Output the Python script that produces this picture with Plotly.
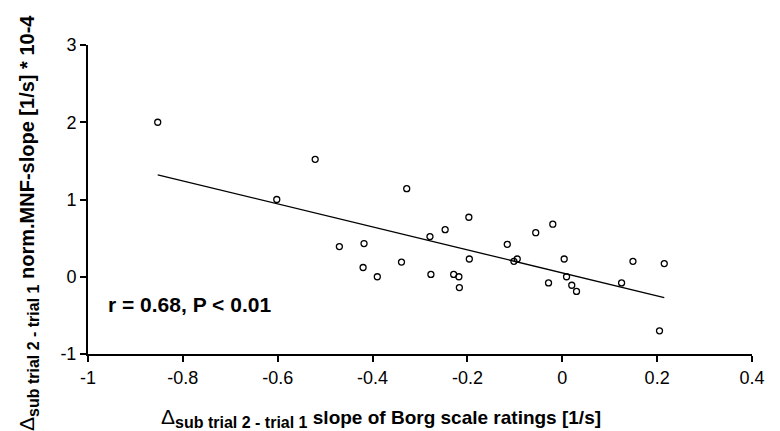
import plotly.graph_objects as go

# Scatter data: Δ slope of Borg scale ratings vs Δ norm. MNF-slope
borg_slope = [-0.853, -0.521, -0.602, -0.470, -0.328, -0.197, -0.247, -0.279,
              -0.056, -0.116, -0.418, -0.420, -0.390, -0.339, -0.277, -0.196,
              -0.229, -0.218, -0.217, -0.102, -0.095, -0.029, -0.020, 0.004,
              0.009, 0.020, 0.030, 0.125, 0.149, 0.215, 0.205]
mnf_slope = [2.00, 1.52, 1.00, 0.39, 1.14, 0.77, 0.61, 0.52,
             0.57, 0.42, 0.43, 0.12, 0.00, 0.19, 0.03, 0.23,
             0.03, 0.00, -0.14, 0.20, 0.23, -0.08, 0.68, 0.23,
             0.00, -0.11, -0.19, -0.08, 0.20, 0.17, -0.70]

# Regression line endpoints
fit_x = [-0.853, 0.215]
fit_y = [1.32, -0.27]

x_ticks = [-1, -0.8, -0.6, -0.4, -0.2, 0, 0.2, 0.4]
x_tick_labels = ["-1", "-0.8", "-0.6", "-0.4", "-0.2", "0", "0.2", "0.4"]
y_ticks = [-1, 0, 1, 2, 3]
y_tick_labels = ["-1", "0", "1", "2", "3"]

FONT = "Liberation Sans, Arial, sans-serif"
DELTA = "<span style='font-size:21px'>Δ</span>"
SUB = "<sub><span style='font-size:16px'><b>sub trial 2 - trial 1</b></span></sub>"

fig = go.Figure()
fig.add_trace(go.Scatter(
    x=fit_x, y=fit_y, mode="lines",
    line=dict(color="black", width=1.3), showlegend=False, hoverinfo="skip"))
fig.add_trace(go.Scatter(
    x=borg_slope, y=mnf_slope, mode="markers",
    marker=dict(symbol="circle-open", size=6, color="black", line=dict(width=1.3)),
    showlegend=False))

# correlation text
fig.add_annotation(
    x=-0.962, y=-0.36, xref="x", yref="y", xanchor="left", yanchor="middle",
    text="<b>r = 0.68, P &lt; 0.01</b>", showarrow=False,
    font=dict(family=FONT, size=21, color="black"))

# x axis title
fig.add_annotation(
    x=0.107, y=-0.207, xref="paper", yref="paper", xanchor="left", yanchor="middle",
    text=DELTA + SUB + " <b>slope of Borg scale ratings [1/s]</b>", showarrow=False,
    font=dict(family=FONT, size=19, color="black"))

# y axis title
fig.add_annotation(
    x=-0.09, y=-0.255, xref="paper", yref="paper", xanchor="center", yanchor="bottom",
    textangle=-90,
    text=DELTA + SUB + " <b>norm.MNF-slope [1/s] * 10-4</b>", showarrow=False,
    font=dict(family=FONT, size=20, color="black"))

fig.update_layout(
    width=772, height=423,
    margin=dict(l=80, r=28, t=37, b=77),
    paper_bgcolor="white", plot_bgcolor="white",
    font=dict(family=FONT, color="black"),
    xaxis=dict(
        range=[-1, 0.4], tickvals=x_ticks, ticktext=x_tick_labels,
        showgrid=False, zeroline=False, showline=True, linecolor="black", linewidth=2,
        ticks="outside", ticklen=6, tickwidth=1.5, tickcolor="black",
        tickfont=dict(family=FONT, size=18, color="black"),
        automargin=False),
    yaxis=dict(
        range=[-1, 3], tickvals=y_ticks, ticktext=y_tick_labels,
        showgrid=False, zeroline=False, showline=True, linecolor="black", linewidth=2,
        ticks="outside", ticklen=6, tickwidth=1.5, tickcolor="black",
        tickfont=dict(family=FONT, size=18, color="black"),
        automargin=False),
)

fig.write_html("out.html")
